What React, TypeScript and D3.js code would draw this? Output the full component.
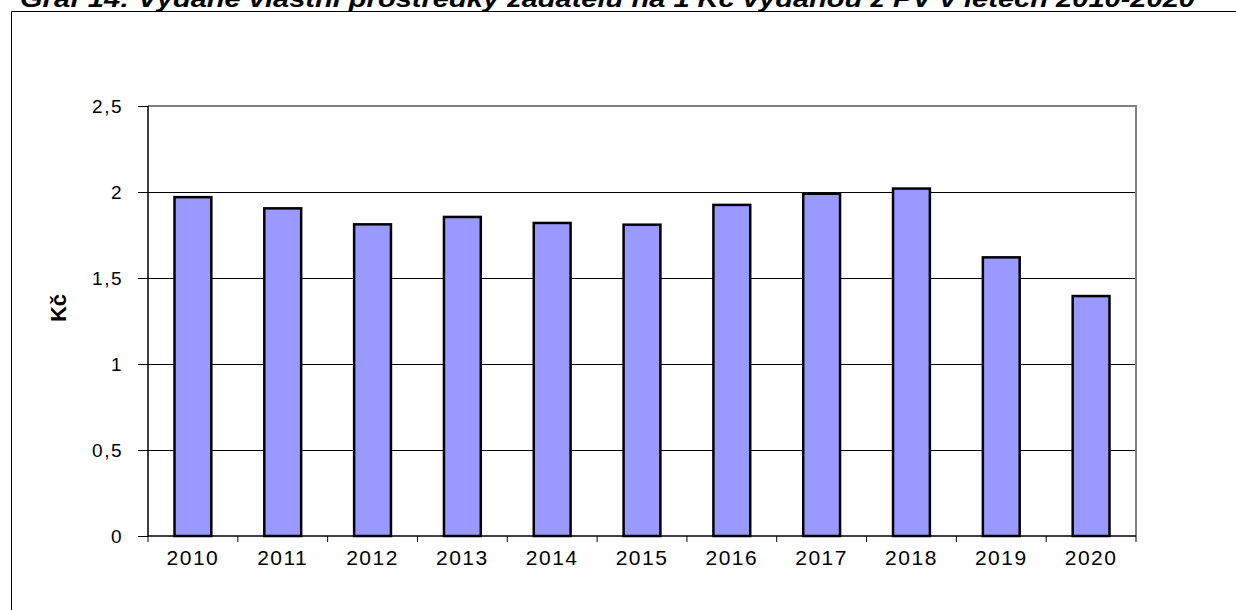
import React from "react";
import * as d3 from "d3";

const title = "Graf 14: Vydané vlastní prostředky žadatelů na 1 Kč vydanou z PV v letech 2010-2020";
const yAxisTitle = "Kč";
const years = ["2010", "2011", "2012", "2013", "2014", "2015", "2016", "2017", "2018", "2019", "2020"];
const values = [1.97, 1.905, 1.812, 1.855, 1.82, 1.81, 1.925, 1.99, 2.02, 1.62, 1.395];
const yTicks = [0, 0.5, 1, 1.5, 2, 2.5];
const yTickLabels = ["0", "0,5", "1", "1,5", "2", "2,5"];

export default function App() {
  const W = 1236, H = 610;
  const left = 148, right = 1136, top = 106, bottom = 536;
  const x = d3.scaleBand().domain(years).range([left, right]).paddingInner(0.59).paddingOuter(0.295);
  const y = d3.scaleLinear().domain([0, 2.5]).range([bottom, top]);
  const step = x.step();
  const font = "Arial, 'Liberation Sans', sans-serif";
  return (
    <svg width={W} height={H} style={{ position: "absolute", left: 0, top: 0, background: "#fff" }} fontFamily={font}>
      <rect x={0} y={0} width={W} height={H} fill="#fff" />
      <text x={20} y={7} fontSize={24} fontWeight="bold" fontStyle="italic" textLength={1175} lengthAdjust="spacingAndGlyphs">{title}</text>
      <path d={`M11.5,${H + 5}V11.5H${W + 5}`} fill="none" stroke="#000" strokeWidth={1} />
      {yTicks.filter((t) => t > 0 && t < 2.5).map((t) => (
        <line key={t} x1={left} x2={right} y1={Math.round(y(t)) + 0.5} y2={Math.round(y(t)) + 0.5} stroke="#000" strokeWidth={1} />
      ))}
      <path d={`M${left},${top}H${right}V${bottom}`} fill="none" stroke="#808080" strokeWidth={2} />
      {years.map((yr, i) => (
        <rect key={yr} x={x(yr)!} y={y(values[i])} width={x.bandwidth()} height={bottom - y(values[i])} fill="#9999FF" stroke="#000" strokeWidth={2.5} />
      ))}
      <line x1={left} x2={left} y1={top} y2={bottom} stroke="#000" strokeWidth={1.5} />
      <line x1={left} x2={right} y1={bottom} y2={bottom} stroke="#000" strokeWidth={1.5} />
      {yTicks.map((t, i) => (
        <g key={t}>
          <line x1={left - 10} x2={left} y1={Math.round(y(t)) + 0.5} y2={Math.round(y(t)) + 0.5} stroke="#000" strokeWidth={1} />
          <text x={123} y={y(t) + 7} fontSize={19} textAnchor="end" letterSpacing={1.5}>{yTickLabels[i]}</text>
        </g>
      ))}
      {years.concat(["end"]).map((yr, i) => (
        <line key={"t" + i} x1={left + i * step} x2={left + i * step} y1={bottom} y2={bottom + 6} stroke="#000" strokeWidth={1} />
      ))}
      {years.map((yr) => (
        <text key={"l" + yr} x={x(yr)! + x.bandwidth() / 2} y={565} fontSize={21} textAnchor="middle" letterSpacing={1.5}>{yr}</text>
      ))}
      <text transform={`translate(66,308) rotate(-90)`} fontSize={22} fontWeight="bold" textAnchor="middle">{yAxisTitle}</text>
    </svg>
  );
}
